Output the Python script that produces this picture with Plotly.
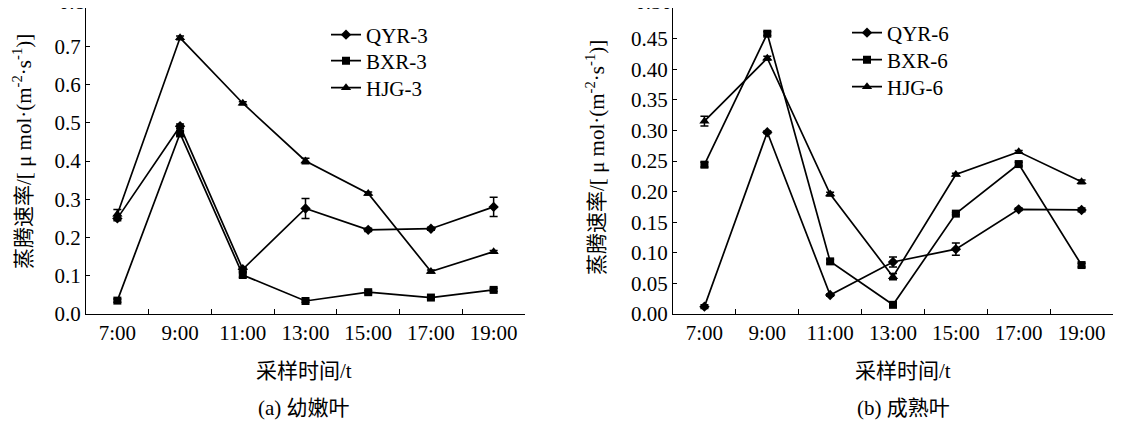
import plotly.graph_objects as go

times = ["7:00", "9:00", "11:00", "13:00", "15:00", "17:00", "19:00"]

# (a) young leaves
qyr3 = [0.250, 0.491, 0.117, 0.276, 0.220, 0.223, 0.280]
qyr3_err = [0.006, 0.006, 0.005, 0.026, 0.004, 0.004, 0.025]
bxr3 = [0.035, 0.472, 0.102, 0.034, 0.057, 0.043, 0.063]
bxr3_err = [0.004, 0.006, 0.006, 0.003, 0.004, 0.003, 0.004]
hjg3 = [0.261, 0.722, 0.551, 0.400, 0.315, 0.111, 0.163]
hjg3_err = [0.012, 0.005, 0.004, 0.007, 0.004, 0.004, 0.003]

# (b) mature leaves
qyr6 = [0.012, 0.297, 0.031, 0.085, 0.106, 0.171, 0.170]
qyr6_err = [0.003, 0.002, 0.002, 0.008, 0.010, 0.002, 0.003]
bxr6 = [0.244, 0.458, 0.086, 0.015, 0.164, 0.245, 0.080]
bxr6_err = [0.004, 0.003, 0.003, 0.003, 0.002, 0.003, 0.003]
hjg6 = [0.315, 0.418, 0.196, 0.061, 0.228, 0.265, 0.216]
hjg6_err = [0.008, 0.003, 0.003, 0.005, 0.002, 0.002, 0.003]

yticks_a = [0.0, 0.1, 0.2, 0.3, 0.4, 0.5, 0.6, 0.7, 0.8]
yticks_b = [0.00, 0.05, 0.10, 0.15, 0.20, 0.25, 0.30, 0.35, 0.40, 0.45, 0.50]

# the page body keeps its default 8px margin, so the figure is offset by 8px
OFF = 8
W, H = 1121 - OFF, 424 - OFF
FONT = "Liberation Serif, Times New Roman, Noto Sans CJK SC"
TICK = 21


def fx(px):
    return (px - OFF) / W


def fy(py):
    return min(1.0, 1 - (py - OFF) / H)


fig = go.Figure()


def add(name, y, err, symbol, size, xa, ya, legend):
    fig.add_trace(go.Scatter(
        x=times, y=y, name=name, mode="lines+markers",
        line=dict(color="black", width=1.7),
        marker=dict(symbol=symbol, size=size, color="black"),
        error_y=dict(type="data", array=err, color="black", thickness=1.5, width=4),
        xaxis=xa, yaxis=ya, legend=legend,
    ))


add("QYR-3", qyr3, qyr3_err, "diamond", 8, "x", "y", "legend")
add("BXR-3", bxr3, bxr3_err, "square", 8, "x", "y", "legend2")
add("HJG-3", hjg3, hjg3_err, "triangle-up", 9, "x", "y", "legend3")
add("QYR-6", qyr6, qyr6_err, "diamond", 8, "x2", "y2", "legend4")
add("BXR-6", bxr6, bxr6_err, "square", 8, "x2", "y2", "legend5")
add("HJG-6", hjg6, hjg6_err, "triangle-up", 9, "x2", "y2", "legend6")

# empty helper traces so the top-label overlay axes exist
fig.add_trace(go.Scatter(x=[], y=[], xaxis="x", yaxis="y3", showlegend=False, hoverinfo="skip"))
fig.add_trace(go.Scatter(x=[], y=[], xaxis="x2", yaxis="y4", showlegend=False, hoverinfo="skip"))

ybot = fy(314)
ytop = fy(8)

xcommon = dict(type="category", range=[-0.5, 6.5], showline=True, linecolor="black",
               linewidth=1.3, ticks="inside", tickson="boundaries", ticklen=5,
               tickcolor="black", tickwidth=1.3, showgrid=False, zeroline=False,
               ticklabeloverflow="allow", automargin=False,
               tickfont=dict(family=FONT, size=TICK, color="black"))
ycommon = dict(showline=True, linecolor="black", linewidth=1.3, ticks="inside",
               ticklen=4, tickcolor="black", tickwidth=1.3, showgrid=False,
               zeroline=False, ticklabeloverflow="allow", automargin=False,
               tickfont=dict(family=FONT, size=TICK, color="black"))
# top label: same as others but nudged down a few px so it is not clipped at the page top
ytopcommon = dict(showline=False, ticks="inside", ticklen=4, tickcolor="rgba(0,0,0,0)",
                  showgrid=False, zeroline=False, ticklabelshift=-6,
                  ticklabeloverflow="allow", automargin=False, side="left",
                  tickfont=dict(family=FONT, size=TICK, color="black"))


def leg(x, y):
    return dict(x=fx(x), y=fy(y), xanchor="left", yanchor="middle",
                bgcolor="rgba(0,0,0,0)", borderwidth=0,
                font=dict(family=FONT, size=21, color="black"))


fig.update_layout(
    template="none",
    width=W, height=H,
    margin=dict(l=0, r=0, t=0, b=0, autoexpand=False),
    plot_bgcolor="white", paper_bgcolor="white",
    font=dict(family=FONT, color="black"),
    xaxis=dict(domain=[fx(86), fx(525)], anchor="y", **xcommon),
    yaxis=dict(domain=[ybot, ytop], anchor="x", range=[0, 0.8], tickvals=yticks_a,
               ticktext=[f"{v:.1f}" for v in yticks_a[:-1]] + [""], **ycommon),
    yaxis3=dict(overlaying="y", anchor="x", range=[0, 0.8], tickvals=yticks_a[-1:],
                ticktext=[f"{yticks_a[-1]:.1f}"], **ytopcommon),
    xaxis2=dict(domain=[fx(673), fx(1113)], anchor="y2", **xcommon),
    yaxis2=dict(domain=[ybot, ytop], anchor="x2", range=[0, 0.5], tickvals=yticks_b,
                ticktext=[f"{v:.2f}" for v in yticks_b[:-1]] + [""], **ycommon),
    yaxis4=dict(overlaying="y2", anchor="x2", range=[0, 0.5], tickvals=yticks_b[-1:],
                ticktext=[f"{yticks_b[-1]:.2f}"], **ytopcommon),
    legend=leg(326, 35),
    legend2=leg(326, 61),
    legend3=leg(326, 88),
    legend4=leg(847, 33),
    legend5=leg(847, 60),
    legend6=leg(847, 87),
    showlegend=True,
)

ytitle = "蒸腾速率/[ μ mol·(m<sup>-2</sup>·s<sup>-1</sup>)]"
ann = [
    dict(text=ytitle, x=fx(22), y=fy(152), textangle=-90),
    dict(text=ytitle, x=fx(595), y=fy(158), textangle=-90),
    dict(text="采样时间/t", x=fx(304), y=fy(371)),
    dict(text="采样时间/t", x=fx(903), y=fy(371)),
    dict(text="(a) 幼嫩叶", x=fx(304), y=fy(408)),
    dict(text="(b) 成熟叶", x=fx(903), y=fy(408)),
]
for a in ann:
    fig.add_annotation(xref="paper", yref="paper", showarrow=False,
                       xanchor="center", yanchor="middle",
                       font=dict(family=FONT, size=21, color="black"), **a)

fig.write_html("out.html")
